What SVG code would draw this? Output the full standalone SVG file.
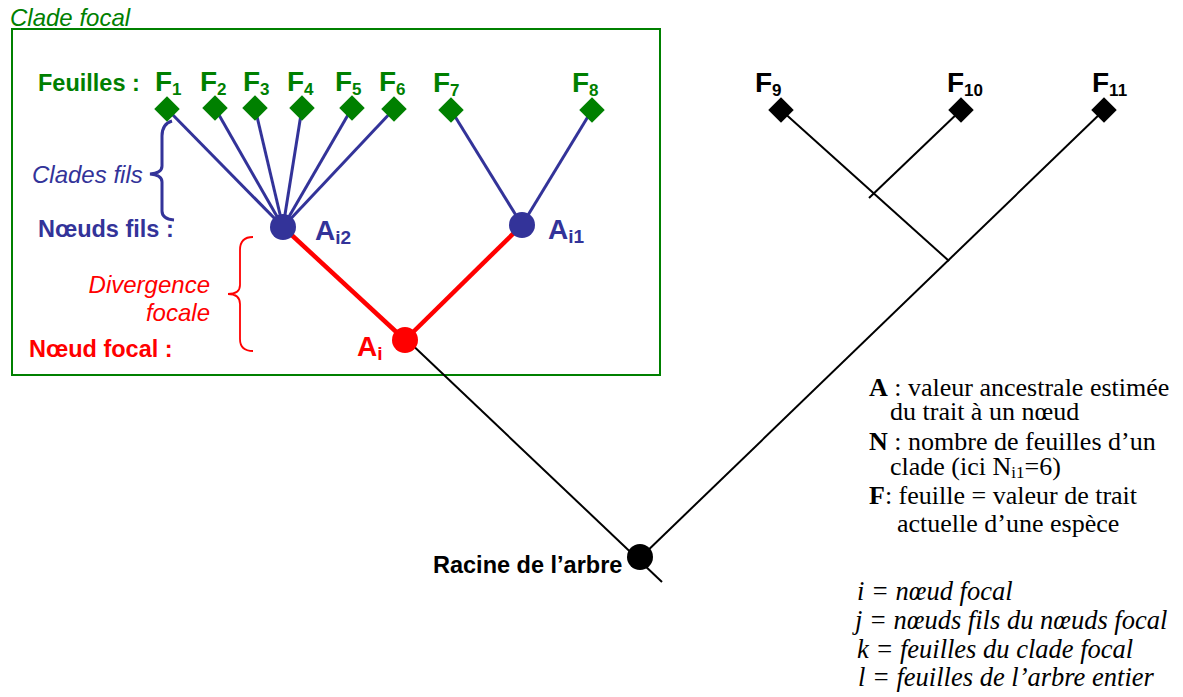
<svg xmlns="http://www.w3.org/2000/svg" width="1183" height="697" viewBox="0 0 1183 697">
<style>
.sans{font-family:"Liberation Sans",Arial,sans-serif}
.serif{font-family:"Liberation Serif","Times New Roman",serif}
.g{fill:#008000}
.b{fill:#333399}
.r{fill:#ff0000}
.k{fill:#000}
.leaf{font-family:"Liberation Sans",Arial,sans-serif;font-weight:bold;font-size:28px}
.sub{font-size:17px}
.lbl{font-family:"Liberation Sans",Arial,sans-serif;font-weight:bold;font-size:23.5px}
.it{font-family:"Liberation Sans",Arial,sans-serif;font-style:italic;font-size:24px}
.blue{stroke:#333399;stroke-width:3;fill:none}
.red{stroke:#ff0000;stroke-width:4.5;fill:none}
.blk{stroke:#000;stroke-width:2;fill:none}
.leg{font-family:"Liberation Serif","Times New Roman",serif;font-size:26px;fill:#000}
.legi{font-family:"Liberation Serif","Times New Roman",serif;font-size:26.5px;font-style:italic;fill:#000}
</style>
<rect width="1183" height="697" fill="#fff"/>
<g id="clade-box">
<rect x="12" y="29" width="648" height="346" fill="none" stroke="#008000" stroke-width="2"/>
<text x="10" y="26" class="it g">Clade focal</text>
</g>
<g id="connectors">
<line x1="167" y1="109" x2="283" y2="227" class="blue"/>
<line x1="215" y1="108" x2="283" y2="227" class="blue"/>
<line x1="255" y1="108" x2="283" y2="227" class="blue"/>
<line x1="302" y1="108" x2="283" y2="227" class="blue"/>
<line x1="352" y1="108" x2="283" y2="227" class="blue"/>
<line x1="394" y1="109" x2="283" y2="227" class="blue"/>
<line x1="451" y1="110" x2="522" y2="225" class="blue"/>
<line x1="592" y1="110" x2="522" y2="225" class="blue"/>
<line x1="283" y1="227" x2="405" y2="340" class="red"/>
<line x1="522" y1="225" x2="405" y2="340" class="red"/>
<line x1="405" y1="338" x2="662" y2="582" class="blk"/>
<line x1="640" y1="558" x2="1104" y2="110" class="blk"/>
<line x1="781" y1="110" x2="949" y2="261" class="blk"/>
<line x1="961" y1="110" x2="869" y2="198" class="blk"/>
</g>
<g id="braces">
<path d="M172,121 Q162,124 162,136 L162,166 Q162,173 150,174 Q162,175 162,182 L162,211 Q162,219 174,220" class="blue" stroke-width="1.8"/>
<path d="M253,237 Q240,237 240,250 L240,285 Q240,294 228,294 Q240,294 240,304 L240,339 Q240,351 253,351" stroke="#ff0000" stroke-width="1.8" fill="none"/>
</g>
<g id="labels-left">
<text x="38" y="91" class="lbl g">Feuilles :</text>
<text x="32" y="183" class="it b">Clades fils</text>
<text x="38" y="237" class="lbl b">Nœuds fils :</text>
<text x="210" y="293" class="it r" text-anchor="end">Divergence</text>
<text x="210" y="321" class="it r" text-anchor="end">focale</text>
<text x="29" y="357" class="lbl r">Nœud focal :</text>
</g>
<g id="leaf-F1"><rect x="158" y="100" width="18" height="18" transform="rotate(45 167 109)" class="g"/><text x="155" y="91" class="leaf g">F<tspan class="sub" dy="4">1</tspan></text></g>
<g id="leaf-F2"><rect x="206" y="99" width="18" height="18" transform="rotate(45 215 108)" class="g"/><text x="200" y="91" class="leaf g">F<tspan class="sub" dy="4">2</tspan></text></g>
<g id="leaf-F3"><rect x="246" y="99" width="18" height="18" transform="rotate(45 255 108)" class="g"/><text x="243" y="91" class="leaf g">F<tspan class="sub" dy="4">3</tspan></text></g>
<g id="leaf-F4"><rect x="293" y="99" width="18" height="18" transform="rotate(45 302 108)" class="g"/><text x="287" y="91" class="leaf g">F<tspan class="sub" dy="4">4</tspan></text></g>
<g id="leaf-F5"><rect x="343" y="99" width="18" height="18" transform="rotate(45 352 108)" class="g"/><text x="335" y="91" class="leaf g">F<tspan class="sub" dy="4">5</tspan></text></g>
<g id="leaf-F6"><rect x="385" y="100" width="18" height="18" transform="rotate(45 394 109)" class="g"/><text x="379" y="91" class="leaf g">F<tspan class="sub" dy="4">6</tspan></text></g>
<g id="leaf-F7"><rect x="442" y="101" width="18" height="18" transform="rotate(45 451 110)" class="g"/><text x="433" y="92" class="leaf g">F<tspan class="sub" dy="4">7</tspan></text></g>
<g id="leaf-F8"><rect x="583" y="101" width="18" height="18" transform="rotate(45 592 110)" class="g"/><text x="572" y="92" class="leaf g">F<tspan class="sub" dy="4">8</tspan></text></g>
<g id="leaf-F9"><rect x="772" y="101" width="18" height="18" transform="rotate(45 781 110)" class="k"/><text x="755" y="92" class="leaf k">F<tspan class="sub" dy="4">9</tspan></text></g>
<g id="leaf-F10"><rect x="952" y="101" width="18" height="18" transform="rotate(45 961 110)" class="k"/><text x="947" y="92" class="leaf k">F<tspan class="sub" dy="4">10</tspan></text></g>
<g id="leaf-F11"><rect x="1095" y="101" width="18" height="18" transform="rotate(45 1104 110)" class="k"/><text x="1092" y="92" class="leaf k">F<tspan class="sub" dy="4">11</tspan></text></g>
<g id="node-Ai2"><circle cx="283" cy="227" r="13" class="b"/><text x="315" y="240" class="leaf b">A<tspan font-size="19" dy="4">i2</tspan></text></g>
<g id="node-Ai1"><circle cx="522" cy="225" r="13" class="b"/><text x="548" y="239" class="leaf b">A<tspan font-size="19" dy="4">i1</tspan></text></g>
<g id="node-Ai"><circle cx="405" cy="340" r="13" class="r"/><text x="357" y="356" class="leaf r">A<tspan font-size="19" dy="4">i</tspan></text></g>
<g id="node-root"><circle cx="640" cy="557" r="13" class="k"/><text x="433" y="573" class="sans k" font-weight="bold" font-size="23.5">Racine de l’arbre</text></g>
<g id="legend">
<text x="869" y="396" class="leg"><tspan font-weight="bold">A</tspan> : valeur ancestrale estimée</text>
<text x="890" y="420" class="leg">du trait à un nœud</text>
<text x="869" y="450" class="leg"><tspan font-weight="bold">N</tspan> : nombre de feuilles d’un</text>
<text x="890" y="475" class="leg">clade (ici N<tspan font-size="17" dy="3">i1</tspan><tspan dy="-3">=6)</tspan></text>
<text x="869" y="504" class="leg"><tspan font-weight="bold">F</tspan>: feuille = valeur de trait</text>
<text x="897" y="532" class="leg">actuelle d’une espèce</text>
<text x="857" y="600" class="legi">i = nœud focal</text>
<text x="855" y="629" class="legi">j = nœuds fils du nœuds focal</text>
<text x="857" y="658" class="legi">k = feuilles du clade focal</text>
<text x="858" y="686" class="legi">l = feuilles de l’arbre entier</text>
</g>
</svg>
